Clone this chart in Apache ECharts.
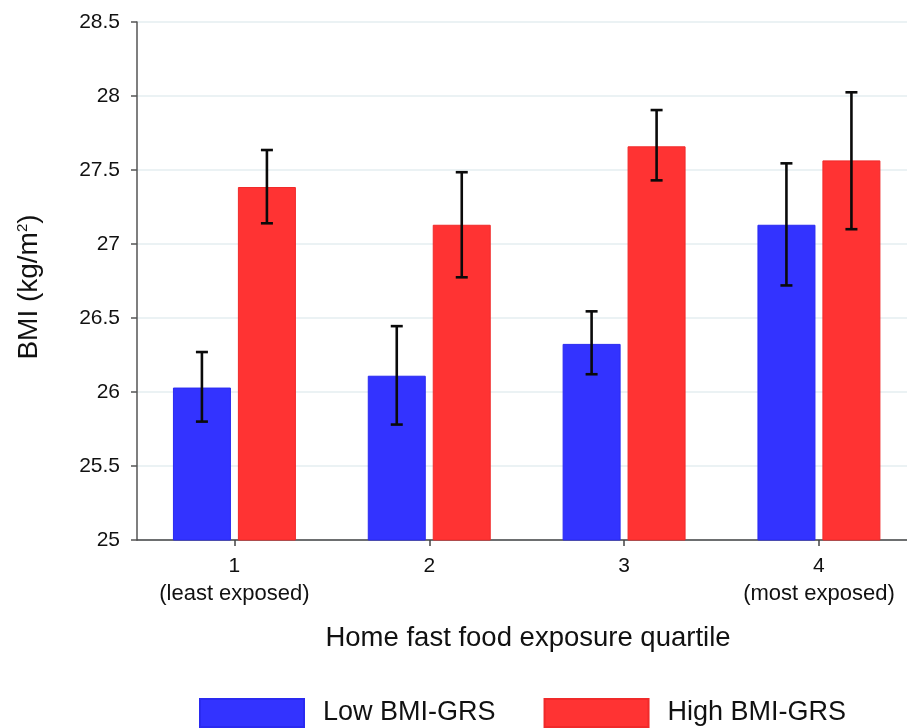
<!DOCTYPE html>
<html>
<head>
<meta charset="utf-8">
<script src="https://cdn.jsdelivr.net/npm/echarts@6/dist/echarts.min.js"></script>
<style>html,body{margin:0;padding:0;background:#fff}#c{width:907px;height:728px}</style>
</head>
<body>
<div id="c"></div>
<script>
const categories = [1, 2, 3, 4];
const categorySub = ['(least exposed)', '', '', '(most exposed)'];
const yTicks = [25, 25.5, 26, 26.5, 27, 27.5, 28, 28.5];
const lowMean = [26.03, 26.11, 26.325, 27.13];
const lowLo = [25.80, 25.78, 26.12, 26.72];
const lowHi = [26.27, 26.445, 26.545, 27.545];
const highMean = [27.385, 27.13, 27.66, 27.565];
const highLo = [27.14, 26.775, 27.43, 27.10];
const highHi = [27.635, 27.485, 27.905, 28.025];
const seriesNames = ['Low BMI-GRS', 'High BMI-GRS'];
const xMin = 0.5, xMax = 4.452;

const FONT = 'Liberation Sans, Arial, sans-serif';
const chart = echarts.init(document.getElementById('c'), null, {renderer: 'canvas'});

function errRender(offset) {
  return function (params, api) {
    const x = api.value(0);
    const p1 = api.coord([x, api.value(1)]);
    const p2 = api.coord([x, api.value(2)]);
    const cx = p1[0] + offset;
    const cap = 6;
    const st = {stroke: '#0a0a0a', lineWidth: 2.6};
    return {
      type: 'group',
      children: [
        {type: 'line', shape: {x1: cx, y1: p1[1], x2: cx, y2: p2[1]}, style: st},
        {type: 'line', shape: {x1: cx - cap, y1: p1[1], x2: cx + cap, y2: p1[1]}, style: st},
        {type: 'line', shape: {x1: cx - cap, y1: p2[1], x2: cx + cap, y2: p2[1]}, style: st}
      ]
    };
  };
}

const option = {
  animation: false,
  backgroundColor: '#fff',
  textStyle: {fontFamily: FONT},
  grid: {left: 137, top: 22, bottom: 188, right: 0},
  legend: {
    data: seriesNames,
    left: 199,
    top: 698,
    padding: 0,
    itemWidth: 104,
    itemHeight: 28,
    itemGap: 48,
    icon: 'rect',
    textStyle: {fontFamily: FONT, fontSize: 27, color: '#111', padding: [0, 0, 0, 14]}
  },
  xAxis: {
    type: 'value',
    min: xMin,
    max: xMax,
    name: 'Home fast food exposure quartile',
    nameLocation: 'middle',
    nameGap: 84,
    nameTextStyle: {fontFamily: FONT, fontSize: 27.5, color: '#111', padding: [0, 0, 0, 12]},
    axisLine: {show: true, onZero: false, lineStyle: {color: '#444', width: 1.5}},
    axisTick: {show: true, customValues: categories, length: 6, lineStyle: {color: '#444', width: 1.5}},
    axisLabel: {
      margin: 13,
      customValues: categories,
      formatter: function (v) {
        const i = categories.indexOf(Math.round(v));
        return categorySub[i] ? '{a|' + v + '}\n{b|' + categorySub[i] + '}' : '{a|' + v + '}';
      },
      rich: {
        a: {fontFamily: FONT, fontSize: 21, color: '#111', lineHeight: 27},
        b: {fontFamily: FONT, fontSize: 22, color: '#111', lineHeight: 27}
      }
    },
    splitLine: {show: false}
  },
  yAxis: {
    type: 'value',
    min: yTicks[0],
    max: yTicks[yTicks.length - 1],
    interval: 0.5,
    name: 'BMI (kg/m{s|2})',
    nameLocation: 'middle',
    nameGap: 94,
    nameTextStyle: {
      fontFamily: FONT, fontSize: 28, color: '#111', padding: [0, 12, 0, 0],
      rich: {s: {fontFamily: FONT, fontSize: 15, color: '#111', verticalAlign: 'top', padding: [0, 0, 12, 0]}}
    },
    axisLine: {show: true, lineStyle: {color: '#555', width: 1.5}},
    axisTick: {show: true, length: 6, lineStyle: {color: '#555', width: 1.5}},
    axisLabel: {margin: 17, fontFamily: FONT, fontSize: 21, color: '#111'},
    splitLine: {lineStyle: {color: '#e4eef1', width: 1.5}}
  },
  series: [
    {
      name: seriesNames[0], type: 'bar', barWidth: 58, barGap: '12%',
      data: categories.map((c, i) => [c, lowMean[i]]),
      itemStyle: {color: '#3333ff', borderColor: '#2a2af0', borderWidth: 1}
    },
    {
      name: seriesNames[1], type: 'bar', barWidth: 58, barGap: '12%',
      data: categories.map((c, i) => [c, highMean[i]]),
      itemStyle: {color: '#ff3333', borderColor: '#f02a2a', borderWidth: 1}
    },
    {
      type: 'custom', renderItem: errRender(-32.5), z: 10,
      data: categories.map((c, i) => [c, lowLo[i], lowHi[i]]),
      encode: {x: 0, y: [1, 2]}, silent: true
    },
    {
      type: 'custom', renderItem: errRender(32.5), z: 10,
      data: categories.map((c, i) => [c, highLo[i], highHi[i]]),
      encode: {x: 0, y: [1, 2]}, silent: true
    }
  ]
};
chart.setOption(option);
</script>
</body>
</html>
